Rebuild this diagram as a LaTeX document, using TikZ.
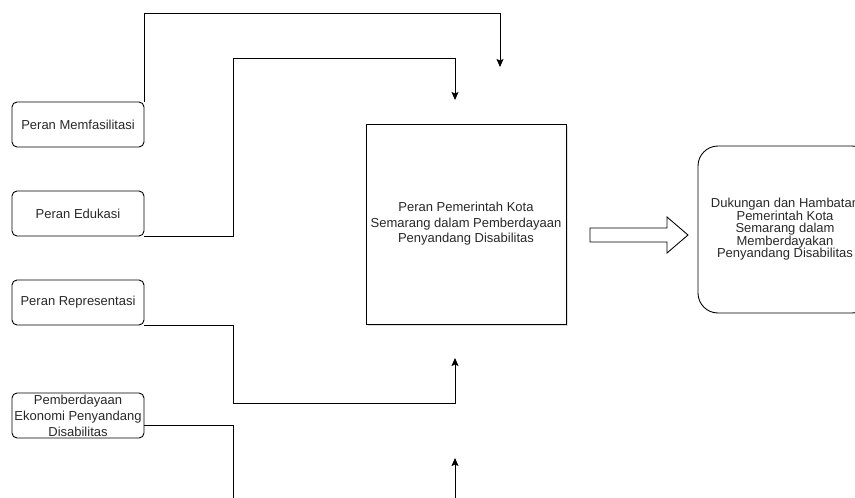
\documentclass[tikz,border=0pt]{standalone}
\usepackage{fontspec}
\setmainfont{Liberation Sans}
\usepackage{tikz}
\usetikzlibrary{arrows.meta,positioning,calc,shadows}
\definecolor{inktext}{RGB}{40,40,40}

\begin{document}
\begin{tikzpicture}[x=1pt, y=-1pt,
  role/.style={rectangle, rounded corners=5pt, draw=black, line width=0.9pt,
    minimum width=132pt, minimum height=45pt, inner sep=0pt, outer sep=0pt,
    align=center, text=inktext, font=\fontsize{13}{15.5}\selectfont},
  core/.style={rectangle, draw=black, line width=0.9pt, fill=white,
    drop shadow={opacity=0.25, shadow xshift=2pt, shadow yshift=-2pt},
    minimum width=200pt, minimum height=200pt, inner sep=0pt, align=center,
    text=inktext, font=\fontsize{13}{15.5}\selectfont},
  result/.style={rectangle, rounded corners=20pt, draw=black, line width=0.9pt,
    minimum width=174pt, minimum height=167pt, inner sep=0pt, align=center,
    text=inktext, font=\fontsize{13}{12.5}\selectfont},
  arr/.style={-{Stealth[length=8pt,width=7pt,inset=1.5pt]}, line width=0.9pt},
  link/.style={line width=0.9pt}]
\useasboundingbox (0,0) rectangle (855,498);
\node[role] (fas) at (78,124.5) {Peran Memfasilitasi};
\node[role, below=44pt of fas] (edu) {Peran Edukasi};
\node[role, below=44pt of edu] (rep) {Peran Representasi};
\node[role, below=68pt of rep, font=\fontsize{13}{16}\selectfont] (eko) {Pemberdayaan\\Ekonomi Penyandang\\Disabilitas};
\node[core] (peran) at (466,224) {Peran Pemerintah Kota\\Semarang dalam Pemberdayaan\\Penyandang Disabilitas};
\node[result] (hasil) at (785,229.5) {Dukungan dan Hambatan\\Pemerintah Kota\\Semarang dalam\\Memberdayakan\\Penyandang Disabilitas};
% free ends of the connectors
\coordinate (in1) at (500,67);
\coordinate (in2) at (455,100);
\coordinate (in3) at (455,358);
\coordinate (in4) at (455,458);
\coordinate (low4) at (233,500);
\coordinate (src4) at (455,500);
\coordinate (flow) at (590,235);
\draw[arr] (fas.north east) -- ++(0,-89) -| (in1);
\draw[arr] (edu.south east) -| ++(89,-178) -| (in2);
\draw[arr] (rep.south east) -| ++(89,78) -| (in3);
\draw[link] ([yshift=-10pt]eko.east) -| (low4);
\draw[arr] (src4) -- (in4);
% block arrow to the result
\draw[line width=0.9pt] (flow) ++(0,-7) -- ++(77,0) -- ++(0,-11) -- ++(21,18)
  -- ++(-21,18) -- ++(0,-11) -- ++(-77,0) -- cycle;
\end{tikzpicture}
\end{document}
